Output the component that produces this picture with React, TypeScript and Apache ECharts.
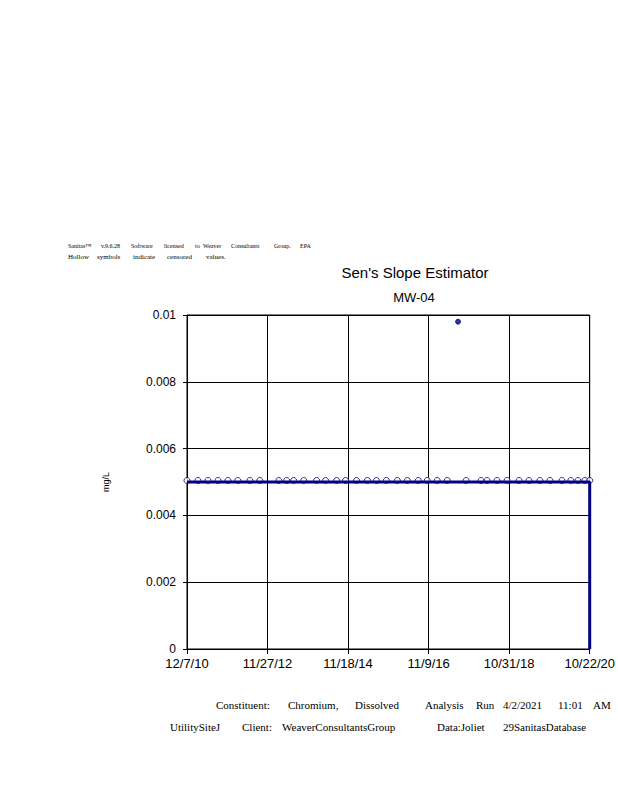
import React, { useEffect, useRef } from "react";
import * as echarts from "echarts";

// Censored (non-detect) sample dates, plotted at the reporting limit
const censoredDates = [
  "2010-12-07", "2011-03-15", "2011-06-13", "2011-09-10", "2011-12-08",
  "2012-03-06", "2012-06-22", "2012-09-19", "2013-03-08", "2013-05-18",
  "2013-07-19", "2013-10-17", "2014-02-10", "2014-05-01", "2014-08-08",
  "2014-10-27", "2015-02-02", "2015-05-11", "2015-07-31", "2015-10-28",
  "2016-02-03", "2016-05-03", "2016-08-09", "2016-10-28", "2017-01-25",
  "2017-04-25", "2017-10-11", "2018-02-22", "2018-04-17", "2018-07-15",
  "2018-10-13", "2019-01-28", "2019-04-27", "2019-08-03", "2019-11-01",
  "2020-02-16", "2020-05-06", "2020-07-08", "2020-09-08", "2020-10-22",
];
const censoredValues = [
  0.005, 0.005, 0.005, 0.005, 0.005, 0.005, 0.005, 0.005, 0.005, 0.005,
  0.005, 0.005, 0.005, 0.005, 0.005, 0.005, 0.005, 0.005, 0.005, 0.005,
  0.005, 0.005, 0.005, 0.005, 0.005, 0.005, 0.005, 0.005, 0.005, 0.005,
  0.005, 0.005, 0.005, 0.005, 0.005, 0.005, 0.005, 0.005, 0.005, 0.005,
];

// Detected sample
const detectedDates = ["2017-07-31"];
const detectedValues = [0.0098];

// Sen's slope trend line vertices
const trendDates = ["2010-12-07", "2020-10-22", "2020-10-22"];
const trendValues = [0.005, 0.005, 0];

// X-axis tick dates
const xTickDates = ["2010-12-07", "2012-11-27", "2014-11-18", "2016-11-09", "2018-10-31", "2020-10-22"];
const yMin = 0;
const yMax = 0.01;
const yStep = 0.002;

const toTs = (s: string) => {
  const [y, m, d] = s.split("-").map(Number);
  return Date.UTC(y, m - 1, d);
};

const fmtDate = (v: number) => {
  const dt = new Date(v);
  return `${dt.getUTCMonth() + 1}/${dt.getUTCDate()}/${String(dt.getUTCFullYear()).slice(2)}`;
};

export default function App() {
  const ref = useRef<HTMLDivElement>(null);

  useEffect(() => {
    if (!ref.current) return;
    const chart = echarts.init(ref.current, null, { renderer: "svg" });
    const navy = "#000080";
    const serif = "'Liberation Serif', 'Times New Roman', serif";
    const sans = "'Liberation Sans', Arial, sans-serif";

    const word = (text: string, x: number, y: number, size: number) => ({
      type: "text",
      x,
      y,
      style: { text, font: `${size}px ${serif}`, fill: "#000", textVerticalAlign: "middle" },
    });

    const ticks = xTickDates.map(toTs);

    chart.setOption({
      animation: false,
      backgroundColor: "#fff",
      grid: {
        left: 187,
        right: 27,
        top: 315,
        bottom: 151,
        show: true,
        borderColor: "#000",
        borderWidth: 1,
        containLabel: false,
      },
      xAxis: {
        type: "value",
        min: ticks[0],
        max: ticks[ticks.length - 1],
        axisLine: { show: true, lineStyle: { color: "#000", width: 1 } },
        axisTick: { show: true, length: 5, lineStyle: { color: "#000" }, customValues: ticks },
        axisLabel: {
          customValues: ticks,
          formatter: (v: number) => fmtDate(v),
          color: "#000",
          fontFamily: sans,
          fontSize: 13,
          margin: 8,
          hideOverlap: false,
          showMinLabel: true,
          showMaxLabel: true,
        },
        splitLine: { show: true, lineStyle: { color: "#000", width: 1 } },
      },
      yAxis: {
        type: "value",
        min: yMin,
        max: yMax,
        interval: yStep,
        name: "mg/L",
        nameLocation: "middle",
        nameGap: 77,
        nameRotate: 90,
        nameTextStyle: { color: "#000", fontFamily: sans, fontSize: 9 },
        axisLine: { show: true, lineStyle: { color: "#000", width: 1 } },
        axisTick: { show: true, length: 4, lineStyle: { color: "#000" } },
        axisLabel: {
          color: "#000",
          fontFamily: sans,
          fontSize: 12,
          margin: 11,
          formatter: (v: number) => String(+v.toFixed(4)),
        },
        splitLine: { show: true, lineStyle: { color: "#000", width: 1 } },
      },
      graphic: [
        {
          type: "text",
          x: 415,
          y: 272,
          style: { text: "Sen's Slope Estimator", font: `15px ${sans}`, fill: "#000", textAlign: "center", textVerticalAlign: "middle" },
        },
        {
          type: "text",
          x: 414,
          y: 297,
          style: { text: "MW-04", font: `13px ${sans}`, fill: "#000", textAlign: "center", textVerticalAlign: "middle" },
        },
        word("Sanitas™", 68, 246, 6),
        word("v.9.6.28", 101, 246, 6),
        word("Software", 131, 246, 6),
        word("licensed", 164, 246, 6),
        word("to", 195, 246, 6),
        word("Weaver", 203, 246, 6),
        word("Consultants", 231, 246, 6),
        word("Group.", 274, 246, 6),
        word("EPA", 300, 246, 6),
        word("Hollow", 68, 257, 7),
        word("symbols", 97, 257, 7),
        word("indicate", 133, 257, 7),
        word("censored", 167, 257, 7),
        word("values.", 206, 257, 7),
        word("Constituent:", 216, 705, 11),
        word("Chromium,", 288, 705, 11),
        word("Dissolved", 355, 705, 11),
        word("Analysis", 425, 705, 11),
        word("Run", 476, 705, 11),
        word("4/2/2021", 503, 705, 11),
        word("11:01", 558, 705, 11),
        word("AM", 593, 705, 11),
        word("UtilitySiteJ", 170, 727, 11),
        word("Client:", 242, 727, 11),
        word("WeaverConsultantsGroup", 282, 727, 11),
        word("Data:Joliet", 437, 727, 11),
        word("29SanitasDatabase", 503, 727, 11),
      ],
      series: [
        {
          type: "scatter",
          name: "Censored",
          data: censoredDates.map((d, i) => [toTs(d), censoredValues[i]]),
          symbol: "circle",
          symbolSize: 6,
          symbolOffset: [0, -1.5],
          itemStyle: { color: "#fff", borderColor: navy, borderWidth: 1 },
          z: 2,
        },
        {
          type: "line",
          name: "Sen's Slope",
          data: trendDates.map((d, i) => [toTs(d), trendValues[i]]),
          showSymbol: false,
          symbol: "none",
          lineStyle: { color: navy, width: 3 },
          clip: false,
          z: 3,
        },
        {
          type: "scatter",
          name: "Detected",
          data: detectedDates.map((d, i) => [toTs(d), detectedValues[i]]),
          symbol: "circle",
          symbolSize: 5,
          itemStyle: { color: navy, borderColor: navy, borderWidth: 1 },
          z: 4,
        },
      ],
    });

    return () => chart.dispose();
  }, []);

  return (
    <div
      ref={ref}
      style={{ position: "absolute", left: 0, top: 0, width: 618, height: 800, background: "#fff" }}
    />
  );
}
